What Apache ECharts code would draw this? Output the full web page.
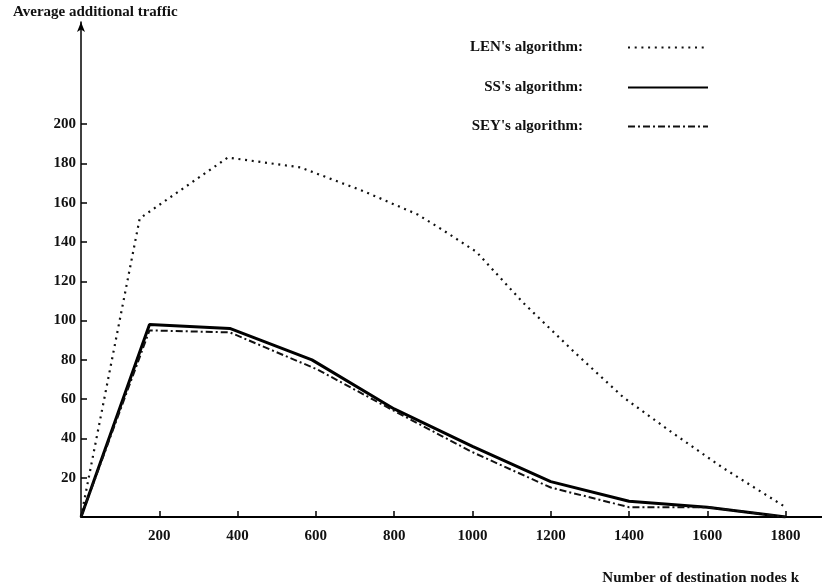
<!DOCTYPE html>
<html>
<head>
    <meta charset="utf-8">
    <script src="https://cdn.jsdelivr.net/npm/echarts@6/dist/echarts.min.js"></script>
    <title></title>
    <style>
        html, body { margin: 0; padding: 0; background: #fff; }
        #myChart { width: 822px; height: 586px; }
    </style>
</head>
<body>
<div id="myChart"></div>
<script>
    // data: [nodes k, average additional traffic]
    var lenData = [[0, 0], [150, 152], [375, 183], [560, 178], [720, 166], [860, 154], [925, 146],
        [1010, 135], [1130, 109], [1260, 84], [1385, 61], [1510, 43], [1640, 25], [1800, 5]];
    var ssData = [[0, 0], [175, 98], [380, 96], [590, 80], [800, 55], [1000, 36], [1200, 18],
        [1400, 8], [1600, 5], [1760, 1], [1800, 0]];
    var seyData = [[0, 0], [175, 95], [380, 94], [605, 75], [800, 54], [1000, 33], [1200, 15],
        [1400, 5], [1600, 5], [1800, 0]];
    var xTicks = [200, 400, 600, 800, 1000, 1200, 1400, 1600, 1800];
    var yTicks = [20, 40, 60, 80, 100, 120, 140, 160, 180, 200];
    var seriesNames = ["LEN's algorithm:", "SS's algorithm:", "SEY's algorithm:"];

    var font = {
        fontFamily: 'Liberation Serif',
        fontWeight: 'bold',
        fontSize: 15,
        color: '#111'
    };

    function legendAt(name, top) {
        return {
            data: [name],
            right: 108,
            top: top,
            align: 'right',
            itemWidth: 80,
            itemHeight: 14,
            selectedMode: false,
            itemStyle: { opacity: 0 },
            textStyle: Object.assign({ padding: [0, 40, 0, 0] }, font)
        };
    }

    var myChart = echarts.init(document.getElementById('myChart'));
    myChart.setOption({
        animation: false,
        backgroundColor: '#fff',
        title: {
            text: 'Number of destination nodes k',
            right: 18,
            top: 566,
            textStyle: font
        },
        legend: [
            legendAt(seriesNames[0], 35),
            legendAt(seriesNames[1], 75),
            legendAt(seriesNames[2], 114)
        ],
        grid: { left: 81, right: 0, top: 22, bottom: 69 },
        xAxis: {
            type: 'value',
            min: 0,
            max: 1893,
            splitLine: { show: false },
            axisLine: { lineStyle: { color: '#000', width: 2 } },
            axisTick: { inside: true, length: 6, customValues: xTicks, lineStyle: { color: '#000', width: 1.5 } },
            axisLabel: Object.assign({
                customValues: xTicks,
                margin: 12,
                formatter: function (v) { return String(v); }
            }, font)
        },
        yAxis: {
            type: 'value',
            min: 0,
            max: 252,
            name: 'Average additional traffic',
            nameLocation: 'end',
            nameGap: 2,
            nameTextStyle: Object.assign({ align: 'left', padding: [0, 0, 0, -68] }, font),
            splitLine: { show: false },
            axisLine: {
                lineStyle: { color: '#000', width: 1.5 },
                symbol: ['none', 'arrow'],
                symbolSize: [6, 10]
            },
            axisTick: { inside: true, length: 6, customValues: yTicks, lineStyle: { color: '#000', width: 1.5 } },
            axisLabel: Object.assign({
                customValues: yTicks,
                margin: 5,
                formatter: function (v) { return String(v); }
            }, font)
        },
        series: [
            {
                name: seriesNames[0],
                type: 'line',
                symbol: 'none',
                data: lenData,
                color: '#111',
                lineStyle: { color: '#111', width: 2.2, type: [2, 4.7] }
            },
            {
                name: seriesNames[1],
                type: 'line',
                symbol: 'none',
                data: ssData,
                color: '#000',
                lineStyle: { color: '#000', width: 3, type: 'solid' }
            },
            {
                name: seriesNames[2],
                type: 'line',
                symbol: 'none',
                data: seyData,
                color: '#111',
                lineStyle: { color: '#111', width: 2, type: [7, 3, 2, 3] }
            }
        ]
    });
</script>
</body>
</html>
